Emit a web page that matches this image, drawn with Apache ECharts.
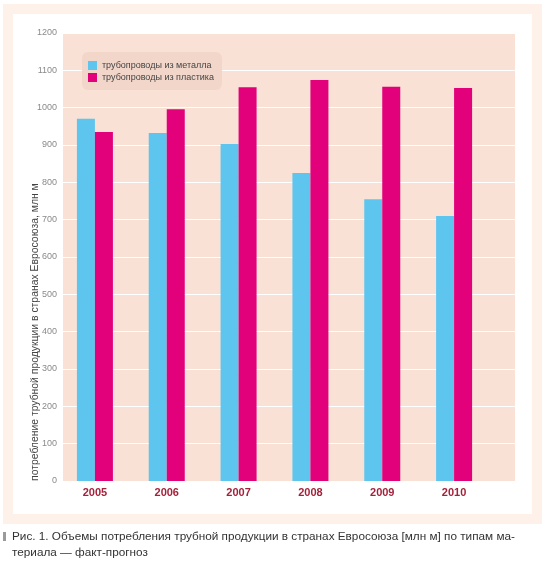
<!DOCTYPE html>
<html>
<head>
<meta charset="utf-8">
<script src="https://cdn.jsdelivr.net/npm/echarts@6/dist/echarts.min.js"></script>
<style>
html,body{margin:0;padding:0;background:#fff;}
#c{width:549px;height:568px;}
</style>
</head>
<body>
<div id="c"></div>
<script>
var years = ['2005','2006','2007','2008','2009','2010'];
var metalPipes = [970, 932, 903, 825, 755, 710];
var plasticPipes = [935, 996, 1055, 1074, 1056, 1053];
var metalName = 'трубопроводы из металла';
var plasticName = 'трубопроводы из пластика';
var yAxisTitle = 'потребление трубной продукции в странах Евросоюза, млн м';
var captionLine1 = 'Рис. 1. Объемы потребления трубной продукции в странах Евросоюза [млн м] по типам ма-';
var captionLine2 = 'териала — факт-прогноз';

var chart = echarts.init(document.getElementById('c'), null, {renderer:'canvas'});
var font = '"Liberation Sans", Arial, sans-serif';
chart.setOption({
  backgroundColor: '#ffffff',
  animation: false,
  textStyle: {fontFamily: font},
  graphic: [
    {type:'rect', z:-100, shape:{x:8, y:9, width:529, height:510}, style:{fill:'#ffffff', stroke:'#fdf1ea', lineWidth:10}},
    {type:'text', z:10, rotation:Math.PI/2, x:35, y:481, style:{text:yAxisTitle, fill:'#444', font:'10.4px ' + font, textAlign:'left', textVerticalAlign:'middle'}},
    {type:'rect', shape:{x:3, y:532, width:3, height:9}, style:{fill:'#9a9a9a'}},
    {type:'text', x:12, y:537, style:{text:captionLine1, fill:'#333', font:'11.75px ' + font, textAlign:'left', textVerticalAlign:'middle'}},
    {type:'text', x:12, y:553, style:{text:captionLine2, fill:'#333', font:'11.75px ' + font, textAlign:'left', textVerticalAlign:'middle'}}
  ],
  legend: {
    orient:'vertical', left:82, top:52,
    backgroundColor:'#f2d6c9', borderRadius:6, padding:[9,8,8,6],
    itemWidth:9, itemHeight:9, itemGap:3, icon:'rect',
    textStyle:{fontSize:9, color:'#444', fontFamily:font},
    data:[metalName, plasticName]
  },
  grid: [
    {left:63, right:34, top:33, bottom:87, show:true, backgroundColor:'#f9e1d5', borderWidth:0},
    {left:59, right:59, top:33, bottom:87}
  ],
  xAxis: [
    {gridIndex:0, type:'value', show:false, min:0, max:1},
    {gridIndex:1, type:'category', data:years,
     axisLine:{show:false}, axisTick:{show:false},
     axisLabel:{color:'#a3223b', fontWeight:'bold', fontSize:11, margin:6, fontFamily:font}}
  ],
  yAxis: [
    {gridIndex:0, type:'value', min:0, max:1200, interval:100,
     axisLine:{show:false}, axisTick:{show:false},
     axisLabel:{color:'#8a8a8a', fontSize:9, margin:6, fontFamily:font, formatter:function(v){return String(v);}},
     splitLine:{show:true, lineStyle:{color:'#ffffff', width:1}}},
    {gridIndex:1, type:'value', min:0, max:1200, show:false, splitLine:{show:false}}
  ],
  series: [
    {name:metalName, type:'bar', xAxisIndex:1, yAxisIndex:1, data:metalPipes, barWidth:18, barGap:'0%', itemStyle:{color:'#5ec5ef'}},
    {name:plasticName, type:'bar', xAxisIndex:1, yAxisIndex:1, data:plasticPipes, barWidth:18, barGap:'0%', itemStyle:{color:'#e2007b'}}
  ]
});
</script>
</body>
</html>
